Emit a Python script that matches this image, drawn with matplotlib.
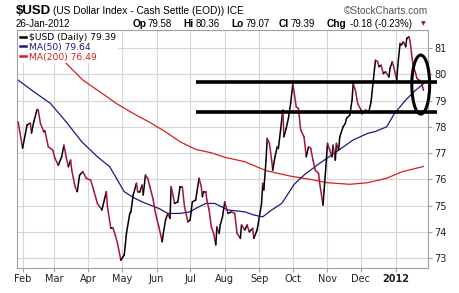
import numpy as np
import pandas as pd
import matplotlib
matplotlib.use("Agg")
import matplotlib.pyplot as plt
import matplotlib.dates as mdates
from matplotlib.collections import LineCollection
from matplotlib.lines import Line2D
from matplotlib.patches import Ellipse

# ---- DATA ----
usd_dates = [
    "2011-01-28", "2011-02-01", "2011-02-05", "2011-02-08", "2011-02-09", "2011-02-11",
    "2011-02-14", "2011-02-15", "2011-02-17", "2011-02-20", "2011-02-21", "2011-02-24",
    "2011-02-26", "2011-02-28", "2011-03-02", "2011-03-05", "2011-03-08", "2011-03-10",
    "2011-03-12", "2011-03-14", "2011-03-16", "2011-03-17", "2011-03-20", "2011-03-22",
    "2011-03-24", "2011-03-27", "2011-03-30", "2011-04-03", "2011-04-06", "2011-04-09",
    "2011-04-13", "2011-04-17", "2011-04-18", "2011-04-21", "2011-04-23", "2011-04-25",
    "2011-04-27", "2011-04-30", "2011-05-02", "2011-05-03", "2011-05-05", "2011-05-08",
    "2011-05-09", "2011-05-11", "2011-05-14", "2011-05-15", "2011-05-17", "2011-05-19",
    "2011-05-20", "2011-05-22", "2011-05-24", "2011-05-26", "2011-05-29", "2011-05-31",
    "2011-06-03", "2011-06-06", "2011-06-07", "2011-06-09", "2011-06-11", "2011-06-13",
    "2011-06-14", "2011-06-16", "2011-06-17", "2011-06-20", "2011-06-22", "2011-06-24",
    "2011-06-26", "2011-06-29", "2011-07-01", "2011-07-03", "2011-07-06", "2011-07-09",
    "2011-07-11", "2011-07-12", "2011-07-13", "2011-07-15", "2011-07-16", "2011-07-18",
    "2011-07-20", "2011-07-22", "2011-07-24", "2011-07-25", "2011-07-27", "2011-07-28",
    "2011-07-30", "2011-08-01", "2011-08-03", "2011-08-04", "2011-08-07", "2011-08-10",
    "2011-08-12", "2011-08-15", "2011-08-16", "2011-08-19", "2011-08-21", "2011-08-23",
    "2011-08-26", "2011-08-27", "2011-08-30", "2011-09-01", "2011-09-03", "2011-09-04",
    "2011-09-05", "2011-09-07", "2011-09-08", "2011-09-10", "2011-09-12", "2011-09-13",
    "2011-09-15", "2011-09-17", "2011-09-18", "2011-09-20", "2011-09-22", "2011-09-23",
    "2011-09-25", "2011-09-27", "2011-09-29", "2011-10-01", "2011-10-04", "2011-10-06",
    "2011-10-08", "2011-10-11", "2011-10-13", "2011-10-15", "2011-10-17", "2011-10-19",
    "2011-10-21", "2011-10-24", "2011-10-25", "2011-10-28", "2011-10-29", "2011-10-31",
    "2011-11-01", "2011-11-03", "2011-11-05", "2011-11-06", "2011-11-08", "2011-11-09",
    "2011-11-11", "2011-11-12", "2011-11-15", "2011-11-17", "2011-11-18", "2011-11-21",
    "2011-11-23", "2011-11-24", "2011-11-26", "2011-11-28", "2011-12-01", "2011-12-02",
    "2011-12-05", "2011-12-08", "2011-12-10", "2011-12-13", "2011-12-14", "2011-12-16",
    "2011-12-17", "2011-12-19", "2011-12-21", "2011-12-23", "2011-12-26", "2011-12-27",
    "2011-12-29", "2011-12-30", "2012-01-02", "2012-01-03", "2012-01-05", "2012-01-06",
    "2012-01-08", "2012-01-10", "2012-01-11", "2012-01-13", "2012-01-14", "2012-01-16",
    "2012-01-17", "2012-01-19", "2012-01-20", "2012-01-22", "2012-01-24", "2012-01-26",
]
usd_close = [
    78.19, 77.19, 78.07, 78.14, 77.76, 78.19,
    78.66, 78.64, 78.13, 77.81, 77.85, 77.24,
    77.18, 77.11, 76.80, 76.54, 76.86, 77.30,
    76.86, 76.48, 76.73, 76.35, 75.72, 75.53,
    76.16, 76.29, 76.04, 75.97, 75.53, 75.08,
    74.83, 75.53, 74.95, 74.13, 74.13, 73.88,
    73.56, 72.92, 73.05, 73.11, 73.94, 74.70,
    74.76, 75.40, 75.85, 75.53, 75.53, 75.78,
    75.40, 76.16, 76.04, 75.72, 75.21, 74.70,
    74.19, 73.62, 73.94, 74.45, 74.70, 74.51,
    75.72, 75.34, 75.08, 75.14, 75.72, 75.72,
    74.95, 74.38, 74.45, 75.14, 75.21, 76.04,
    75.72, 75.34, 75.53, 75.53, 75.21, 74.83,
    74.19, 73.94, 73.50, 74.19, 73.94, 74.26,
    74.57, 75.14, 74.83, 74.70, 74.76, 74.70,
    73.94, 73.75, 74.26, 74.07, 74.26, 74.00,
    74.13, 73.75, 74.07, 74.57, 75.08, 75.85,
    75.59, 76.73, 77.56, 77.37, 76.73, 76.35,
    76.86, 77.24, 77.17, 77.88, 78.64, 77.62,
    77.94, 78.32, 78.89, 79.65, 78.76, 78.70,
    77.88, 77.62, 76.86, 77.24, 77.18, 76.73,
    76.35, 76.23, 75.85, 75.02, 75.59, 76.73,
    77.37, 77.11, 76.86, 77.30, 76.73, 77.37,
    77.11, 77.62, 78.00, 78.13, 78.32, 78.45,
    79.02, 79.65, 79.40, 78.89, 78.64, 78.50,
    78.64, 78.57, 78.95, 80.16, 80.54, 80.48,
    80.29, 80.35, 80.03, 80.10, 79.90, 80.23,
    80.48, 80.35, 79.78, 80.35, 81.18, 81.11,
    81.24, 81.05, 81.37, 81.43, 81.24, 80.54,
    80.29, 80.03, 79.85, 79.78, 79.70, 79.39,
]

ma50_dates = [
    "2011-01-28", "2011-02-11", "2011-02-26", "2011-03-12", "2011-03-26", "2011-04-09",
    "2011-04-20", "2011-05-03", "2011-05-11", "2011-05-19", "2011-06-03", "2011-06-11",
    "2011-06-22", "2011-07-01", "2011-07-06", "2011-07-15", "2011-07-23", "2011-08-04",
    "2011-08-19", "2011-08-27", "2011-09-04", "2011-09-12", "2011-09-21", "2011-09-24",
    "2011-10-02", "2011-10-12", "2011-10-25", "2011-11-09", "2011-11-24", "2011-12-07",
    "2011-12-13", "2011-12-24", "2011-12-31", "2012-01-10", "2012-01-19", "2012-01-26",
]
ma50 = [
    79.78, 79.34, 78.89, 78.19, 77.43, 76.86,
    76.48, 75.53, 75.31, 75.14, 74.89, 74.70,
    74.70, 74.76, 74.89, 75.08, 75.08, 74.83,
    74.76, 74.64, 74.57, 74.83, 75.08, 75.27,
    75.80, 76.20, 76.61, 77.05, 77.50, 77.75,
    77.81, 78.00, 78.51, 79.02, 79.40, 79.64,
]

ma200_dates = [
    "2011-01-28", "2011-02-27", "2011-03-12", "2011-03-27", "2011-04-11", "2011-04-26",
    "2011-05-11", "2011-05-25", "2011-06-09", "2011-06-22", "2011-07-06", "2011-07-20",
    "2011-08-01", "2011-08-19", "2011-09-07", "2011-09-29", "2011-10-16", "2011-11-01",
    "2011-11-21", "2011-12-07", "2011-12-24", "2012-01-07", "2012-01-26",
]
ma200 = [
    81.90, 80.95, 80.42, 79.78, 79.34, 78.89,
    78.51, 78.19, 77.81, 77.43, 77.14, 77.01,
    76.84, 76.67, 76.33, 76.12, 76.00, 75.87,
    75.81, 75.87, 76.04, 76.29, 76.49,
]

tick_dates = ["2011-02-01", "2011-03-01", "2011-04-01", "2011-05-01", "2011-06-01", "2011-07-01",
              "2011-08-01", "2011-09-01", "2011-10-01", "2011-11-01", "2011-12-01", "2012-01-01"]
tick_labels = ["Feb", "Mar", "Apr", "May", "Jun", "Jul", "Aug", "Sep", "Oct", "Nov", "Dec", "2012"]
y_ticks = [73, 74, 75, 76, 77, 78, 79, 80, 81]

# hand drawn annotation: two levels and a circle on the last days
levels = [79.72, 78.55]
level_start, level_end = "2011-07-06", "2012-02-07"
circle_center = ("2012-01-23 12:00", 79.61)
circle_w_days, circle_h = 16, 2.25

header = {"op": "79.58", "hi": "80.36", "lo": "79.07", "cl": "79.39", "chg": "-0.18 (-0.23%)"}

UP_COL = "black"
DN_COL = "#a8123e"
GRID = "#d6d6d6"
SPINE = "#a0a0a0"


def px(x, y):
    return x / 460, 1 - y / 293


def main():
    fig = plt.figure(figsize=(4.6, 2.93), dpi=100)
    ax = fig.add_axes([17 / 460, 1 - 268 / 293, (428 - 17) / 460, (268 - 30) / 293])

    d = mdates.date2num(pd.to_datetime(usd_dates))
    c = np.array(usd_close)

    ax.plot(pd.to_datetime(ma200_dates), ma200, color="#d42020", lw=0.9, zorder=2)
    ax.plot(pd.to_datetime(ma50_dates), ma50, color="#1a1a80", lw=0.9, zorder=2)

    # price: black on up days, crimson on down days
    segs = np.stack([np.column_stack([d[:-1], c[:-1]]), np.column_stack([d[1:], c[1:]])], axis=1)
    cols = [UP_COL if b >= a else DN_COL for a, b in zip(c[:-1], c[1:])]
    ax.add_collection(LineCollection(segs, colors=cols, linewidths=1.1, zorder=3, capstyle="round"))

    # annotation
    for lv in levels:
        ax.plot(pd.to_datetime([level_start, level_end]), [lv, lv], color="black",
                lw=2.6, solid_capstyle="butt", clip_on=False, zorder=5)
    ell = Ellipse((mdates.date2num(pd.Timestamp(circle_center[0])), circle_center[1]),
                  width=circle_w_days, height=circle_h, fill=False, ec="black", lw=2.2,
                  clip_on=False, zorder=5)
    ax.add_patch(ell)

    ax.set_xlim(pd.Timestamp("2011-01-27"), pd.Timestamp("2012-01-30"))
    ax.set_ylim(72.62, 81.69)

    ax.set_xticks(pd.to_datetime(tick_dates))
    ax.set_xticklabels(tick_labels)
    ax.get_xticklabels()[-1].set_fontweight("bold")
    ax.set_yticks(y_ticks)
    ax.yaxis.tick_right()

    ax.grid(True, color=GRID, lw=0.8, zorder=0)
    ax.set_axisbelow(True)
    for s in ax.spines.values():
        s.set_color(SPINE)
        s.set_linewidth(0.8)
    ax.tick_params(axis="both", length=3, color=SPINE, labelsize=7, labelcolor="#222222", pad=1.5)

    handles = [Line2D([], [], color="black", lw=1.8),
               Line2D([], [], color="#1a1a80", lw=1.8),
               Line2D([], [], color="#d42020", lw=1.8)]
    labels = ["$USD (Daily) 79.39", "MA(50) 79.64", "MA(200) 76.49"]
    leg = ax.legend(handles, labels, loc="upper left", fontsize=6.6, handlelength=0.7,
                    handletextpad=0.3, labelspacing=0.1, borderpad=0.2, borderaxespad=0.1,
                    frameon=True, facecolor="white", edgecolor="none", framealpha=1,
                    fancybox=False, labelcolor="linecolor")
    leg.set_zorder(6)

    # header
    hf = "Liberation Sans"
    fig.text(*px(16, 11), "$USD", fontsize=9.5, fontweight="bold", family=hf, va="center")
    fig.text(*px(53, 11), "(US Dollar Index - Cash Settle (EOD)) ICE", fontsize=7.3,
             family=hf, va="center")
    fig.text(*px(428, 11), "\u00a9StockCharts.com", fontsize=7.3, family=hf, va="center",
             ha="right", color="#555555")
    fig.text(*px(16, 24), "26-Jan-2012", fontsize=7, family=hf, va="center")

    parts = [(133, "Op", True), (147, header["op"], False), (183, "Hi", True),
             (196, header["hi"], False), (231, "Lo", True), (245, header["lo"], False),
             (279, "Cl", True), (290, header["cl"], False), (327, "Chg", True),
             (350, header["chg"], False)]
    for x, t, b in parts:
        fig.text(*px(x, 24), t, fontsize=7.3 if b else 7, family=hf, va="center",
                 fontweight="bold" if b else "normal")
    fig.text(*px(423, 24), "\u25bc", fontsize=4.5, color="#8b1a3a", va="center", ha="center")

    plt.savefig("out.png", dpi=100)
    plt.close()


if __name__ == "__main__":
    main()
